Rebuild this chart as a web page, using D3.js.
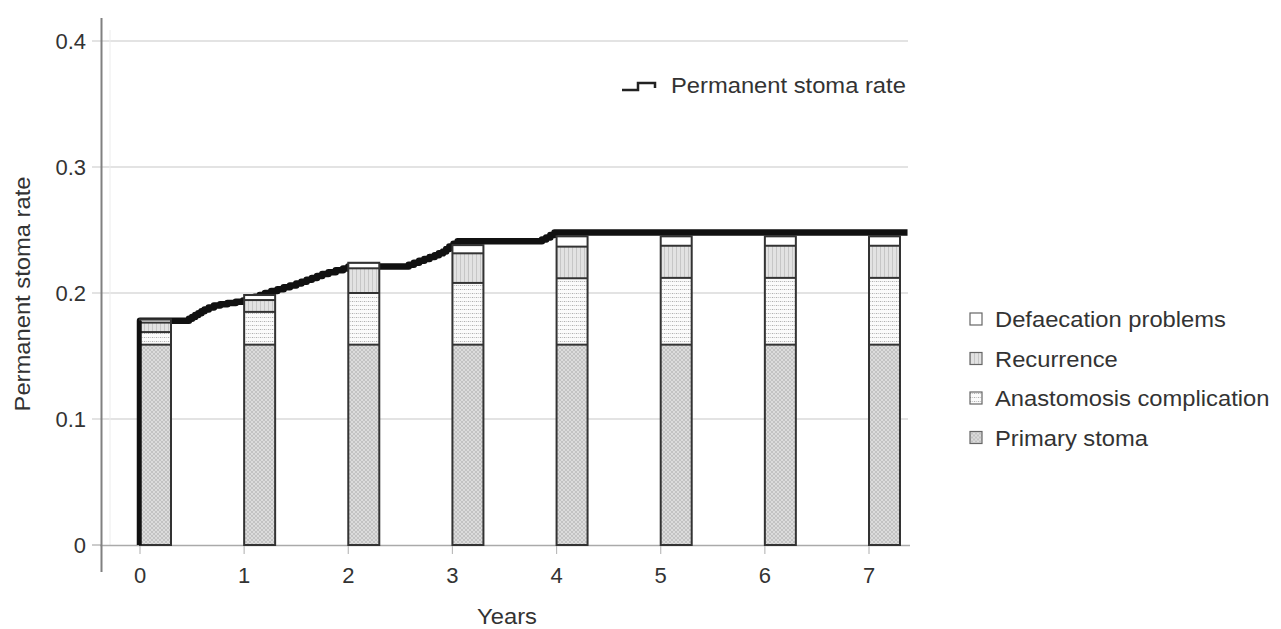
<!DOCTYPE html>
<html><head><meta charset="utf-8">
<script src="https://cdn.jsdelivr.net/npm/d3@7"></script>
<style>body{margin:0;background:#fff}svg text{font-family:"Liberation Sans",Arial,sans-serif;fill:#333}</style>
</head><body><svg id="c" width="1281" height="629"></svg>
<script>
const years = [0,1,2,3,4,5,6,7];
const seriesNames = ["Primary stoma","Anastomosis complication","Recurrence","Defaecation problems"];
const primaryStoma = [0.159,0.159,0.159,0.159,0.159,0.159,0.159,0.159];
const anastomosis  = [0.010,0.026,0.041,0.049,0.0527,0.053,0.053,0.053];
const recurrence   = [0.0075,0.0094,0.0196,0.0235,0.0251,0.0255,0.0255,0.0255];
const defaecation  = [0.0025,0.0040,0.0044,0.0065,0.0082,0.0075,0.0075,0.0075];
const stepTimes  = [0,0,0.47,0.50,0.53,0.56,0.59,0.62,0.66,0.71,0.77,0.84,0.92,0.99,1.05,1.10,1.15,1.20,1.26,1.32,1.38,1.44,1.50,1.55,1.60,1.65,1.70,1.75,1.81,1.88,1.95,2.00,2.58,2.63,2.68,2.73,2.78,2.83,2.87,2.91,2.94,2.97,3.01,3.05,3.86,3.90,3.94,3.98,7.37];
const stepValues = [0,0.178,0.1795,0.181,0.1825,0.184,0.1855,0.187,0.1885,0.190,0.191,0.192,0.193,0.194,0.1955,0.197,0.1985,0.200,0.2015,0.203,0.2045,0.206,0.2075,0.209,0.2105,0.212,0.2135,0.215,0.2165,0.218,0.2195,0.221,0.2225,0.224,0.2255,0.227,0.2285,0.230,0.2315,0.233,0.235,0.237,0.239,0.241,0.2425,0.244,0.246,0.248,0.248];
const yTicks = [0,0.1,0.2,0.3,0.4];
const yTickLabels = ["0","0.1","0.2","0.3","0.4"];

const svg = d3.select("#c");
const x = d3.scaleLinear().domain([0,7]).range([140,869]);
const y = d3.scaleLinear().domain([0,0.4]).range([545,41]);
const barW = 31;
const SX = 1.08;

const defs = svg.append("defs");
function pat(id, bg, draw, w, h){
  const p = defs.append("pattern").attr("id",id).attr("patternUnits","userSpaceOnUse").attr("width",w).attr("height",h);
  p.append("rect").attr("width",w).attr("height",h).attr("fill",bg);
  draw(p);
}
pat("pPrim","#dcdcdc",p=>{
  p.append("path").attr("d","M0,0L4,4M4,0L0,4").attr("stroke","#bcbcbc").attr("stroke-width",0.8);
},4,4);
pat("pAnas","#fbfbfb",p=>{
  p.append("rect").attr("x",0).attr("y",1).attr("width",1.2).attr("height",1).attr("fill","#b0b0b0");
  p.append("rect").attr("x",2).attr("y",1).attr("width",1.2).attr("height",1).attr("fill","#cccccc");
},4,4);
pat("pRec","#e2e2e2",p=>{
  p.append("rect").attr("x",0).attr("y",0).attr("width",1).attr("height",4).attr("fill","#c6c6c6");
},4,4);
const fills = ["url(#pPrim)","url(#pAnas)","url(#pRec)","#ffffff"];

// gridlines
svg.append("g").selectAll("line").data(yTicks.slice(1)).join("line")
  .attr("x1",92).attr("x2",908).attr("y1",d=>y(d)).attr("y2",d=>y(d))
  .attr("stroke","#c8c8c8").attr("stroke-width",1.2);
svg.append("line").attr("x1",110).attr("x2",110).attr("y1",30).attr("y2",545).attr("stroke","#ececec").attr("stroke-width",1);
svg.append("line").attr("x1",92).attr("x2",102).attr("y1",y(0)).attr("y2",y(0)).attr("stroke","#aaa").attr("stroke-width",1.2);
svg.append("line").attr("x1",100).attr("x2",910).attr("y1",y(0)+0.5).attr("y2",y(0)+0.5).attr("stroke","#aaa").attr("stroke-width",1.5);
svg.append("line").attr("x1",101.5).attr("x2",101.5).attr("y1",18).attr("y2",572).attr("stroke","#808080").attr("stroke-width",2);
svg.append("g").selectAll("line").data(years).join("line")
  .attr("x1",d=>x(d)).attr("x2",d=>x(d)).attr("y1",y(0)).attr("y2",y(0)+9)
  .attr("stroke","#bbb").attr("stroke-width",1.2);

// step line
const line = d3.line().x((d,i)=>x(stepTimes[i])).y((d,i)=>y(stepValues[i])).curve(d3.curveStepAfter);
svg.append("path").datum(stepValues).attr("d",line).attr("fill","none").attr("stroke","#111").attr("stroke-width",6.5).attr("stroke-linejoin","round");

// stacked bars
const rows = years.map((yr,i)=>({year:yr,v:[primaryStoma[i],anastomosis[i],recurrence[i],defaecation[i]]}));
const g = svg.append("g");
rows.forEach(r=>{
  let base = 0;
  r.v.forEach((v,k)=>{
    g.append("rect").attr("x",x(r.year)).attr("width",barW)
      .attr("y",y(base+v)).attr("height",y(base)-y(base+v)).attr("fill",fills[k]);
    base += v;
  });
  let b2 = 0;
  r.v.forEach((v,k)=>{
    b2 += v;
    g.append("line").attr("x1",x(r.year)).attr("x2",x(r.year)+barW).attr("y1",y(b2)).attr("y2",y(b2))
      .attr("stroke","#333").attr("stroke-width",k===3?1.5:2);
  });
  g.append("rect").attr("x",x(r.year)).attr("width",barW).attr("y",y(b2)).attr("height",y(0)-y(b2))
    .attr("fill","none").attr("stroke","#333").attr("stroke-width",2);
});
svg.append("line").attr("x1",x(0)).attr("x2",x(0)).attr("y1",y(0)).attr("y2",y(stepValues[1])).attr("stroke","#111").attr("stroke-width",3.5);

// y tick labels
svg.append("g").selectAll("text").data(yTicks).join("text")
  .attr("x",86).attr("y",d=>y(d)+8).attr("text-anchor","end").style("font-size","22px")
  .text((d,i)=>yTickLabels[i]);
svg.append("g").selectAll("text").data(years).join("text")
  .attr("x",d=>x(d)).attr("y",583).attr("text-anchor","middle").style("font-size","22px")
  .text(d=>d);
// axis titles
svg.append("text").attr("transform",`translate(507,624) scale(${SX},1)`).attr("text-anchor","middle").style("font-size","22px").text("Years");
svg.append("text").attr("transform",`translate(30,294) rotate(-90) scale(${SX},1)`).attr("text-anchor","middle").style("font-size","22px").text("Permanent stoma rate");

// top legend
svg.append("path").attr("d","M622,90H638V83H655V88").attr("fill","none").attr("stroke","#222").attr("stroke-width",2.5);
svg.append("text").attr("transform",`translate(671,93) scale(${SX},1)`).style("font-size","22px").text("Permanent stoma rate");

// right legend
const legOrder = [3,2,1,0];
const leg = svg.append("g").selectAll("g").data(legOrder).join("g")
  .attr("transform",(d,i)=>`translate(970,${313+i*39.5})`);
leg.append("rect").attr("width",12).attr("height",12).attr("fill",d=>fills[d]).attr("stroke","#666").attr("stroke-width",1.2);
leg.append("text").attr("transform",`translate(25,14) scale(${SX},1)`).style("font-size","22px").text(d=>seriesNames[d]);
</script></body></html>
